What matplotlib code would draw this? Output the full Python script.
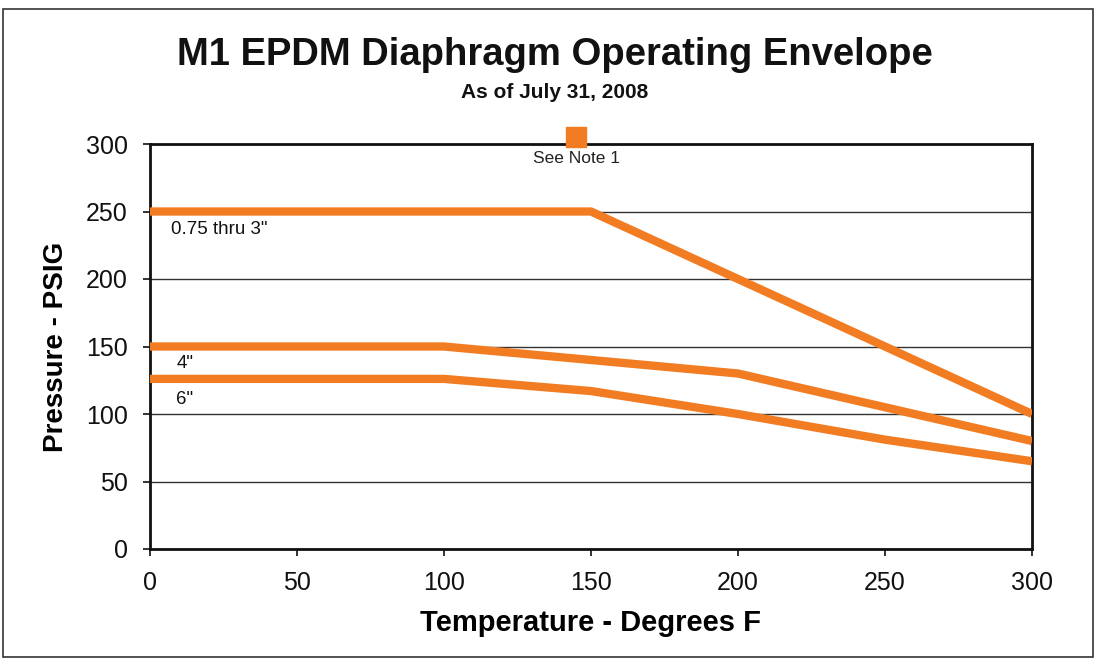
import matplotlib
matplotlib.use("Agg")
import matplotlib.pyplot as plt
from matplotlib.patches import Rectangle

temps_small = [0, 150, 200, 250, 300]
press_small = [250, 250, 200, 150, 100]
temps_4 = [0, 100, 200, 300]
press_4 = [150, 150, 130, 80]
temps_6 = [0, 100, 150, 200, 250, 300]
press_6 = [126, 126, 117, 100, 81, 65]
note_point = (145, 305)
xticks = [0, 50, 100, 150, 200, 250, 300]
yticks = [0, 50, 100, 150, 200, 250, 300]

orange = "#F27C22"
plt.rcParams['font.family'] = ['Liberation Sans', 'DejaVu Sans']

fig = plt.figure(figsize=(10.96, 6.61), dpi=100)
ax = fig.add_axes([150/1096, 1-549/661, (1032-150)/1096, (549-144)/661])

for t, p in [(temps_small, press_small), (temps_4, press_4), (temps_6, press_6)]:
    ax.plot(t, p, color=orange, lw=6, solid_capstyle='butt', solid_joinstyle='round', zorder=3)

ax.plot([note_point[0]], [note_point[1]], marker='s', ms=14, color=orange, clip_on=False, zorder=4)
ax.text(note_point[0], note_point[1]-10, "See Note 1", ha='center', va='top', fontsize=12.5, color='#222222')

ax.text(7, 243, '0.75 thru 3"', ha='left', va='top', fontsize=13.5, color='#111111')
ax.text(9, 144, '4"', ha='left', va='top', fontsize=13.5, color='#111111')
ax.text(9, 117, '6"', ha='left', va='top', fontsize=13.5, color='#111111')

ax.set_xlim(0, 300)
ax.set_ylim(0, 300)
ax.set_xticks(xticks)
ax.set_yticks(yticks)
ax.tick_params(labelsize=18, length=5, width=1.2, direction='out', pad=11, colors='#111111')
ax.yaxis.grid(True, color='#333333', lw=1.0)
ax.set_axisbelow(True)
for s in ax.spines.values():
    s.set_linewidth(2)
    s.set_color('#111111')

ax.set_xlabel("Temperature - Degrees F", fontsize=21, fontweight='bold', labelpad=10)
ax.set_ylabel("Pressure - PSIG", fontsize=20, fontweight='bold', labelpad=12)

fig.text(555/1096, 1-55/661, "M1 EPDM Diaphragm Operating Envelope", ha='center', va='center',
         fontsize=27.5, fontweight='bold', color='#111111')
fig.text(555/1096, 1-93/661, "As of July 31, 2008", ha='center', va='center',
         fontsize=15, fontweight='bold', color='#111111')

fig.patches.append(Rectangle((3/1096, 1-657/661), 1090/1096, 648/661, transform=fig.transFigure,
                             fill=False, edgecolor='#333333', lw=1.2))

fig.savefig("out.png", dpi=100)
